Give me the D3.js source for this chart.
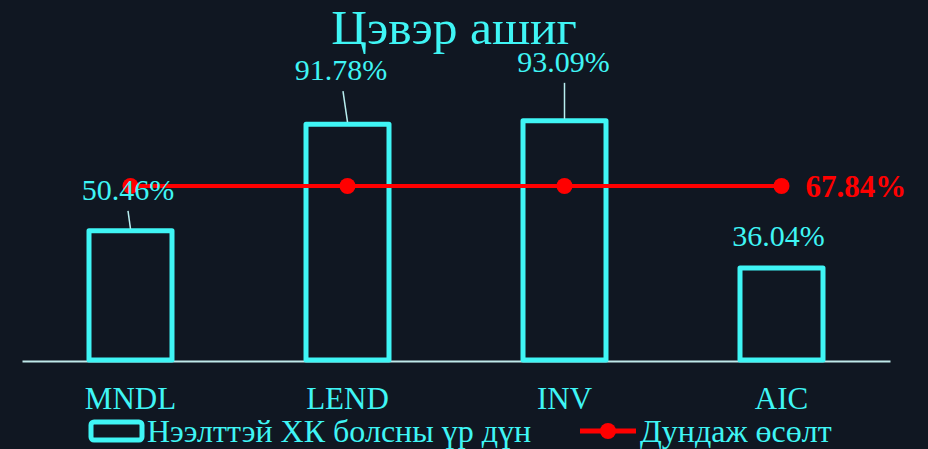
<!DOCTYPE html>
<html><head><meta charset="utf-8">
<script src="https://cdn.jsdelivr.net/npm/d3@7"></script>
<style>html,body{margin:0;padding:0;background:#101722;}svg{display:block;}</style>
</head><body>
<svg id="chart" width="928" height="449"></svg>
<script>
const categories = ["MNDL", "LEND", "INV", "AIC"];
const values = [50.46, 91.78, 93.09, 36.04];
const averageValue = 67.84;
const title = "Цэвэр ашиг";
const legendLabels = ["Нээлттэй ХК болсны үр дүн", "Дундаж өсөлт"];

// label layout adjustments (moved labels to avoid overlap)
const labelShift = [
  {dx:-2.5, dy:-31, line:true, lineDx:0},
  {dx:-6.5, dy:-44, line:true, lineDx:2},
  {dx:-1, dy:-49, line:true, lineDx:1},
  {dx:-3, dy:-22, line:false, lineDx:0}
];

const W = 928, H = 449;
const cyan = "#3ff5f5";
const font = "Liberation Serif, Times New Roman, serif";
const svg = d3.select("#chart");
svg.append("rect").attr("width", W).attr("height", H).attr("fill", "#101722");

const x = d3.scaleBand().domain(categories).range([22, 890]).paddingInner(0).paddingOuter(0);
const y = d3.scaleLinear().domain([0, 100]).range([361, 103]);
const bw = 88;

svg.append("text").attr("x", 454).attr("y", 44).attr("text-anchor", "middle")
  .attr("font-family", font).attr("font-size", 49.5)
  .attr("fill", cyan).text(title);

// axis
const xAxis = svg.append("g").attr("transform", `translate(0,${y(0)})`)
  .call(d3.axisBottom(x).tickSize(0).tickPadding(26));
xAxis.select(".domain").attr("stroke", "#bfe9ea").attr("stroke-width", 2);
xAxis.selectAll("text").attr("font-family", font)
  .attr("font-size", 31).attr("fill", cyan);

// bars
svg.selectAll("rect.bar").data(values).join("rect").attr("class", "bar")
  .attr("x", (d, i) => x(categories[i]) + x.bandwidth() / 2 - bw / 2 + 2.5)
  .attr("y", d => y(d))
  .attr("width", bw - 5).attr("height", d => y(0) - y(d) - 1)
  .attr("fill", "none").attr("stroke", cyan).attr("stroke-width", 5).attr("stroke-linejoin", "round");

// average line
const avgData = categories.map(c => ({c, v: averageValue}));
const line = d3.line().x(d => x(d.c) + x.bandwidth() / 2).y(d => y(d.v));
svg.append("path").datum(avgData).attr("d", line).attr("fill", "none")
  .attr("stroke", "#ff0000").attr("stroke-width", 4);
svg.selectAll("circle.avg").data(avgData).join("circle").attr("class", "avg")
  .attr("cx", d => x(d.c) + x.bandwidth() / 2).attr("cy", d => y(d.v)).attr("r", 8)
  .attr("fill", "#ff0000");
svg.append("text").attr("x", x(categories[3]) + x.bandwidth() / 2 + 24).attr("y", y(averageValue) + 11)
  .attr("font-family", font).attr("font-size", 31)
  .attr("font-weight", "bold").attr("fill", "#ff0000").text(averageValue.toFixed(2) + "%");

// bar labels with leader lines
values.forEach((v, i) => {
  const cx = x(categories[i]) + x.bandwidth() / 2;
  const top = y(v);
  const s = labelShift[i];
  const lx = cx + s.dx, ly = top + s.dy;
  if (s.line) {
    svg.append("line").attr("x1", lx + s.lineDx).attr("y1", ly + 11)
      .attr("x2", cx).attr("y2", top - 2)
      .attr("stroke", "#b8eef0").attr("stroke-width", 1.5);
  }
  svg.append("text").attr("x", lx).attr("y", ly).attr("text-anchor", "middle")
    .attr("font-family", font).attr("font-size", 30)
    .attr("fill", cyan).text(v.toFixed(2) + "%");
});

// legend
const lg = svg.append("g");
lg.append("rect").attr("x", 91).attr("y", 422).attr("width", 51).attr("height", 18).attr("rx", 3)
  .attr("fill", "none").attr("stroke", cyan).attr("stroke-width", 5);
lg.append("text").attr("x", 147).attr("y", 442)
  .attr("font-family", font).attr("font-size", 32)
  .attr("fill", cyan).text(legendLabels[0]);
lg.append("line").attr("x1", 580).attr("x2", 636).attr("y1", 431).attr("y2", 431)
  .attr("stroke", "#ff0000").attr("stroke-width", 5);
lg.append("circle").attr("cx", 608).attr("cy", 431).attr("r", 8).attr("fill", "#ff0000");
lg.append("text").attr("x", 640).attr("y", 442)
  .attr("font-family", font).attr("font-size", 32)
  .attr("fill", cyan).text(legendLabels[1]);
</script>
</body></html>
